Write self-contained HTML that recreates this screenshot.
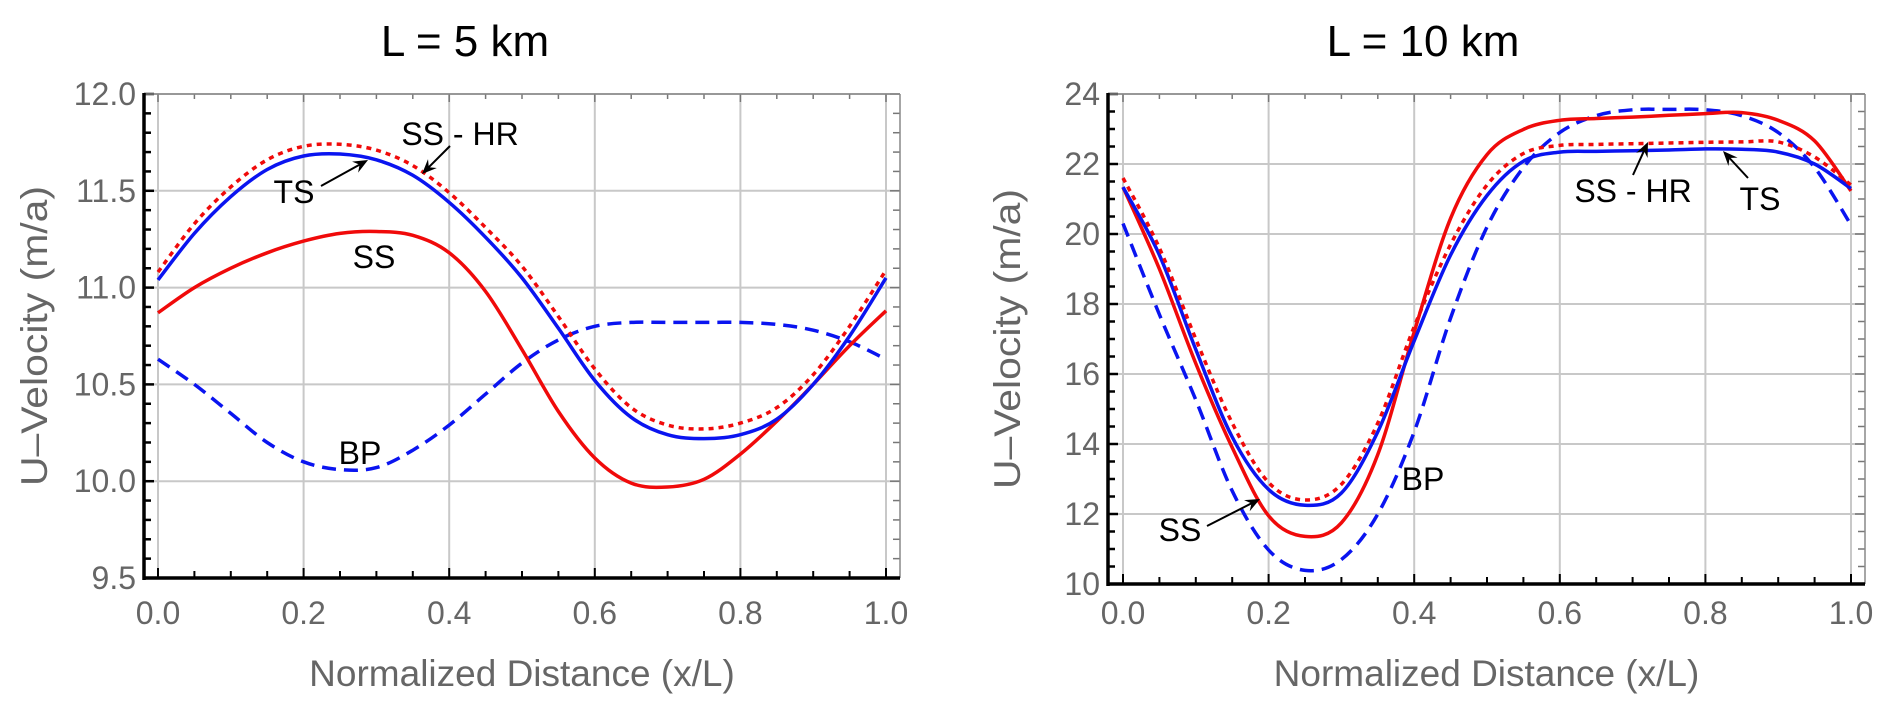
<!DOCTYPE html>
<html><head><meta charset="utf-8"><style>
html,body{margin:0;padding:0;background:#fff;}
svg{display:block;font-family:"Liberation Sans",Arial,sans-serif;}
</style></head><body>
<svg id="fig" width="1892" height="713" viewBox="0 0 1892 713" xmlns="http://www.w3.org/2000/svg">
<g id="p1"></g>
<g id="p2"></g>
</svg>
<script>
const xs = [0,0.05,0.1,0.15,0.2,0.25,0.3,0.35,0.4,0.45,0.5,0.55,0.6,0.65,0.7,0.75,0.8,0.85,0.9,0.95,1.0];
// Left (L = 5 km)
const L_TS   = [11.04,11.28,11.47,11.61,11.68,11.69,11.66,11.58,11.44,11.26,11.05,10.79,10.52,10.33,10.24,10.22,10.24,10.32,10.50,10.75,11.05];
const L_SSHR = [11.08,11.33,11.52,11.66,11.73,11.74,11.71,11.63,11.49,11.31,11.11,10.85,10.58,10.38,10.29,10.27,10.30,10.38,10.55,10.80,11.09];
const L_SS   = [10.87,11.00,11.10,11.18,11.24,11.28,11.29,11.27,11.18,10.98,10.68,10.36,10.12,9.99,9.97,10.01,10.14,10.31,10.50,10.70,10.88];
const L_BP   = [10.63,10.50,10.35,10.20,10.10,10.06,10.07,10.16,10.29,10.45,10.61,10.73,10.80,10.82,10.82,10.82,10.82,10.81,10.78,10.72,10.63];
// Right (L = 10 km)
const R_TS   = [21.34,19.4,16.7,14.2,12.7,12.25,12.6,14.35,16.95,19.4,21.1,22.08,22.34,22.36,22.38,22.40,22.43,22.42,22.34,22.0,21.3];
const R_SSHR = [21.6,19.6,17.0,14.6,12.9,12.4,12.85,14.6,17.35,19.7,21.4,22.3,22.53,22.56,22.58,22.60,22.62,22.63,22.63,22.2,21.4];
const R_SS   = [21.34,19.0,16.3,13.9,11.95,11.36,11.75,13.7,17.2,20.45,22.27,22.99,23.25,23.3,23.34,23.39,23.44,23.47,23.25,22.66,21.23];
const R_BP   = [20.3,17.7,15.26,12.66,10.97,10.39,10.7,12.0,14.35,17.6,20.2,21.9,22.9,23.38,23.55,23.56,23.55,23.38,22.9,21.9,20.26];
const L_YTICKS = ["9.5","10.0","10.5","11.0","11.5","12.0"];
const R_YTICKS = ["10","12","14","16","18","20","22","24"];
const XTICKS = ["0.0","0.2","0.4","0.6","0.8","1.0"];

const NS="http://www.w3.org/2000/svg";
function mk(parent,tag,attrs,text){const e=document.createElementNS(NS,tag);for(const k in attrs)e.setAttribute(k,attrs[k]);if(text!==undefined)e.textContent=text;parent.appendChild(e);return e;}
function smooth(pts){let d="M"+pts[0][0].toFixed(1)+","+pts[0][1].toFixed(1);for(let i=0;i<pts.length-1;i++){const p0=pts[i-1]||pts[i],p1=pts[i],p2=pts[i+1],p3=pts[i+2]||p2;const c1=[p1[0]+(p2[0]-p0[0])/6,p1[1]+(p2[1]-p0[1])/6],c2=[p2[0]-(p3[0]-p1[0])/6,p2[1]-(p3[1]-p1[1])/6];d+="C"+c1[0].toFixed(1)+","+c1[1].toFixed(1)+" "+c2[0].toFixed(1)+","+c2[1].toFixed(1)+" "+p2[0].toFixed(1)+","+p2[1].toFixed(1);}return d;}

function panel(g,cfg){
  const sx=v=>cfg.x0+(cfg.x1-cfg.x0)*v;
  const sy=v=>cfg.yb+(cfg.yt-cfg.yb)*(v-cfg.ymin)/(cfg.ymax-cfg.ymin);
  const t=mk(g,"text",{x:cfg.tx,y:56,"font-size":44,"text-anchor":"middle",fill:"#000"},cfg.title);
  
  
  // grid
  for(let i=0;i<=5;i++){const x=sx(i*0.2);const l=mk(g,"line",{x1:x,x2:x,y1:cfg.yt,y2:cfg.yb,stroke:"#c8c8c8","stroke-width":2});
    
    }
  cfg.yt_labels.forEach((lab,i)=>{const y=sy(cfg.ymin+i*cfg.ystep);const l=mk(g,"line",{x1:cfg.ax,x2:cfg.ar,y1:y,y2:y,stroke:"#c8c8c8","stroke-width":2});
    
    
    const tx=mk(g,"text",{x:cfg.ax-8,y:y+11,"font-size":cfg.fs,"text-anchor":"end",fill:"#666"},lab);
    
    });
  // ticks
  for(let k=0;k<=20;k++){const x=sx(k*0.05);const len=k%4===0?10:7;
    mk(g,"line",{x1:x,x2:x,y1:cfg.yb,y2:cfg.yb-len,stroke:"#000","stroke-width":2});
    mk(g,"line",{x1:x,x2:x,y1:cfg.yt,y2:cfg.yt+len-2,stroke:"#777","stroke-width":1.5});}
  const nm=Math.round((cfg.ymax-cfg.ymin)/cfg.yminor);
  for(let k=0;k<=nm;k++){const y=sy(cfg.ymin+k*cfg.yminor);const maj=Math.abs(((k*cfg.yminor)/cfg.ystep)-Math.round((k*cfg.yminor)/cfg.ystep))<1e-6;const len=maj?10:7;
    mk(g,"line",{x1:cfg.ax,x2:cfg.ax+len,y1:y,y2:y,stroke:"#000","stroke-width":2.5});
    mk(g,"line",{x1:cfg.ar,x2:cfg.ar-len,y1:y,y2:y,stroke:"#777","stroke-width":1.5});}
  XTICKS.forEach((lab,i)=>{const tx=mk(g,"text",{x:sx(i*0.2),y:624,"font-size":cfg.fs,"text-anchor":"middle",fill:"#666"},lab);
    
    });
  // frame
  mk(g,"line",{x1:cfg.ax,x2:cfg.ar,y1:cfg.yt,y2:cfg.yt,stroke:"#888","stroke-width":1.5});
  mk(g,"line",{x1:cfg.ar,x2:cfg.ar,y1:cfg.yt,y2:cfg.yb,stroke:"#888","stroke-width":1.5});
  mk(g,"line",{x1:cfg.ax,x2:cfg.ax,y1:cfg.yt-1,y2:cfg.yb+2,stroke:"#000","stroke-width":3.5});
  mk(g,"line",{x1:cfg.ax,x2:cfg.ar,y1:cfg.yb,y2:cfg.yb,stroke:"#000","stroke-width":3.5});
  const xt=mk(g,"text",{x:(cfg.ax+cfg.ar)/2,y:686,"font-size":37,"text-anchor":"middle",fill:"#666"},"Normalized Distance (x/L)");
  
  
  const yc=(cfg.yt+cfg.yb)/2;
  const yt=mk(g,"text",{x:cfg.ytx,y:yc,"font-size":37,"text-anchor":"middle",fill:"#666",transform:"rotate(-90 "+cfg.ytx+" "+yc+")",textLength:300,lengthAdjust:"spacingAndGlyphs"},"U\u2013Velocity (m/a)");
  
  
  // series
  const series=[[cfg.bp,"#0a14f0","14,8","bp"],[cfg.ss,"#f00a0a","","ss"],[cfg.ts,"#0a14f0","","ts"],[cfg.sshr,"#f00a0a","5,5","ss-hr"]];
  series.forEach(s=>{const pts=xs.map((x,i)=>[sx(x),sy(s[0][i])]);
    const p=mk(g,"path",{d:smooth(pts),fill:"none",stroke:s[1],"stroke-width":3.5,"stroke-dasharray":s[2]});
    
    });
  // annotations
  cfg.labels.forEach(a=>{const tx=mk(g,"text",{x:a[1],y:a[2],"font-size":32,"text-anchor":"middle",fill:"#000"},a[0]);
    
    });
  cfg.arrows.forEach(a=>{const [x1,y1,x2,y2]=a;const ang=Math.atan2(y2-y1,x2-x1);const L=16,w=0.4;
    mk(g,"line",{x1:x1,y1:y1,x2:x2-Math.cos(ang)*8,y2:y2-Math.sin(ang)*8,stroke:"#000","stroke-width":2});
    const pa=mk(g,"polygon",{points:x2+","+y2+" "+(x2-L*Math.cos(ang-w))+","+(y2-L*Math.sin(ang-w))+" "+(x2-L*0.6*Math.cos(ang))+","+(y2-L*0.6*Math.sin(ang))+" "+(x2-L*Math.cos(ang+w))+","+(y2-L*Math.sin(ang+w)),fill:"#000"});
    
    });
}
panel(document.getElementById("p1"),{title:"L = 5 km",tx:465,x0:158,x1:886,ax:144,ar:900,yt:94,yb:578,ymin:9.5,ymax:12,ystep:0.5,yminor:0.1,yt_labels:L_YTICKS,fs:32,ytx:47,
  ts:L_TS,sshr:L_SSHR,ss:L_SS,bp:L_BP,
  labels:[["SS - HR",460,145],["TS",294,203],["SS",374,268],["BP",360,464]],
  arrows:[[321,186,368,160],[450,146,422,174]]});
panel(document.getElementById("p2"),{title:"L = 10 km",tx:1423,x0:1123,x1:1851,ax:1108,ar:1865,yt:94,yb:584,ymin:10,ymax:24,ystep:2,yminor:0.5,yt_labels:R_YTICKS,fs:32,ytx:1020,
  ts:R_TS,sshr:R_SSHR,ss:R_SS,bp:R_BP,
  labels:[["SS - HR",1633,202],["TS",1760,210],["SS",1180,541],["BP",1423,490]],
  arrows:[[1633,175,1648,142],[1748,178,1723,151],[1207,526,1260,499]]});
</script>
</body></html>
